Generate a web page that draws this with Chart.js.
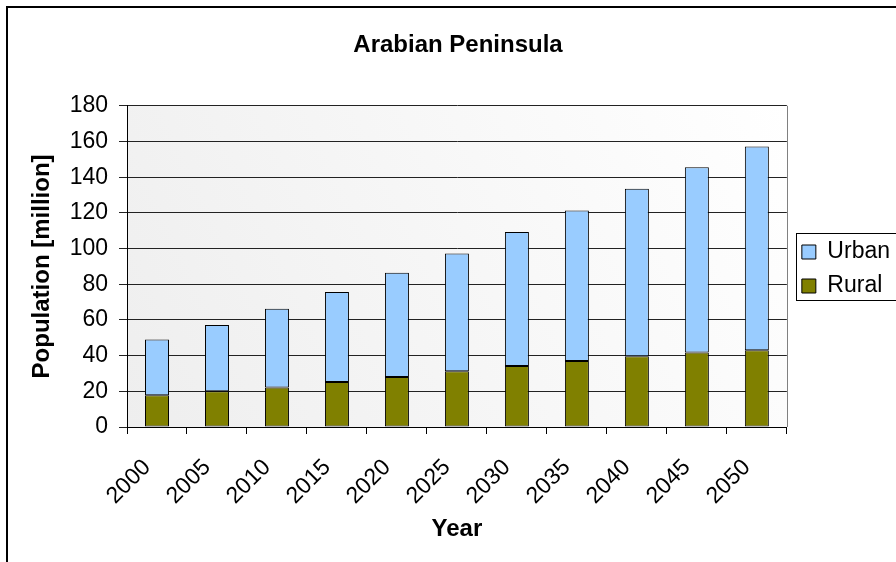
<!DOCTYPE html>
<html>
<head>
<meta charset="utf-8">
<script src="https://cdn.jsdelivr.net/npm/chart.js@4/dist/chart.umd.min.js"></script>
<style>
html,body{margin:0;padding:0;background:#fff;}
#wrap{width:896px;height:562px;position:relative;}
</style>
</head>
<body>
<div id="wrap"><canvas id="c" width="896" height="562"></canvas></div>
<script>
const years = ['2000','2005','2010','2015','2020','2025','2030','2035','2040','2045','2050'];
const rural = [17.8, 20.0, 22.2, 25.2, 28.0, 31.2, 34.2, 37.0, 39.6, 41.7, 43.0];
const urban = [31.2, 37.2, 44.0, 50.5, 58.4, 66.0, 75.1, 84.3, 93.9, 103.9, 114.2];
const yTicks = [0, 20, 40, 60, 80, 100, 120, 140, 160, 180];

const FONT = "'Liberation Sans', Arial, sans-serif";

const decor = {
  id: 'decor',
  beforeDraw(chart) {
    const ctx = chart.ctx;
    ctx.save();
    ctx.fillStyle = '#fff';
    ctx.fillRect(0, 0, chart.width, chart.height);
    ctx.strokeStyle = '#000';
    ctx.lineWidth = 2;
    ctx.strokeRect(7, 7, chart.width + 20, chart.height + 20);
    const a = chart.chartArea;
    const g = ctx.createLinearGradient(a.left, a.bottom, a.right, a.top);
    g.addColorStop(0, '#eeeeee');
    g.addColorStop(1, '#ffffff');
    ctx.fillStyle = g;
    ctx.fillRect(a.left, a.top, a.right - a.left, a.bottom - a.top);
    ctx.restore();
  },
  afterLayout(chart) {
    if (chart.legend) {
      chart.legend.left += 4;
      chart.legend.right += 4;
      chart.legend.top -= 12;
      chart.legend.bottom -= 12;
    }
  },
  afterDatasetsDraw(chart) {
    const ctx = chart.ctx;
    const a = chart.chartArea;
    ctx.save();
    ctx.strokeStyle = '#808080';
    ctx.lineWidth = 1;
    ctx.beginPath();
    ctx.moveTo(Math.round(a.right) + 0.5, a.top);
    ctx.lineTo(Math.round(a.right) + 0.5, a.bottom);
    ctx.stroke();
    ctx.restore();
  },
  afterDraw(chart) {
    const ctx = chart.ctx;
    const lg = chart.legend;
    if (!lg || !lg.legendHitBoxes || !lg.legendHitBoxes.length) return;
    const hb = lg.legendHitBoxes;
    const top = hb[0].top - 8;
    const bottom = hb[hb.length - 1].top + hb[hb.length - 1].height + 2;
    ctx.save();
    ctx.strokeStyle = '#000';
    ctx.lineWidth = 1;
    ctx.strokeRect(796.5, Math.round(top) + 0.5, 120, Math.round(bottom - top));
    ctx.restore();
  }
};

new Chart(document.getElementById('c'), {
  type: 'bar',
  data: {
    labels: years,
    datasets: [
      { label: 'Rural', data: rural, backgroundColor: '#808000', borderColor: '#000', borderWidth: 1, borderSkipped: false },
      { label: 'Urban', data: urban, backgroundColor: '#99ccff', borderColor: '#000', borderWidth: 1, borderSkipped: false }
    ]
  },
  options: {
    responsive: false,
    animation: false,
    devicePixelRatio: 1,
    layout: { padding: { left: 20, right: 0, top: 0, bottom: 0 } },
    datasets: { bar: { barPercentage: 0.4, categoryPercentage: 1.0 } },
    plugins: {
      title: {
        display: true,
        text: 'Arabian Peninsula',
        color: '#000',
        font: { family: FONT, size: 24, weight: 'bold', lineHeight: 1.2 },
        padding: { top: 31, bottom: 46 }
      },
      legend: {
        position: 'right',
        reverse: true,
        labels: {
          color: '#000',
          font: { family: FONT, size: 23 },
          boxWidth: 14,
          boxHeight: 14,
          padding: 11,
          generateLabels(chart) {
            const items = Chart.defaults.plugins.legend.labels.generateLabels(chart);
            items.forEach(it => { it.lineWidth = 1; it.strokeStyle = '#000'; });
            return items;
          }
        }
      },
      tooltip: { enabled: false }
    },
    scales: {
      x: {
        stacked: true,
        afterFit(s) { s.height = 562 - 427; },
        grid: { display: true, offset: true, drawOnChartArea: false, drawTicks: true, tickLength: 7, color: '#000' },
        border: { display: true, color: '#000', width: 1 },
        ticks: { color: '#000', font: { family: FONT, size: 23 }, maxRotation: 45, minRotation: 45, padding: 20, labelOffset: -10, autoSkip: false },
        title: { display: true, text: 'Year', color: '#000', font: { family: FONT, size: 24, weight: 'bold', lineHeight: 1.2 }, padding: { top: 0, bottom: 18 } }
      },
      y: {
        stacked: true,
        min: 0,
        max: 180,
        afterFit(s) { s.width = 127 - 20; },
        afterBuildTicks(s) { s.ticks = yTicks.map(v => ({ value: v })); },
        grid: { color: '#222', tickLength: 8, drawTicks: true },
        border: { display: true, color: '#000', width: 1 },
        ticks: { color: '#000', font: { family: FONT, size: 23 }, padding: 11 },
        title: { display: true, text: 'Population [million]', color: '#000', font: { family: FONT, size: 24, weight: 'bold', lineHeight: 1.2 }, padding: { top: 8, bottom: 0 } }
      }
    }
  },
  plugins: [decor]
});
</script>
</body>
</html>
